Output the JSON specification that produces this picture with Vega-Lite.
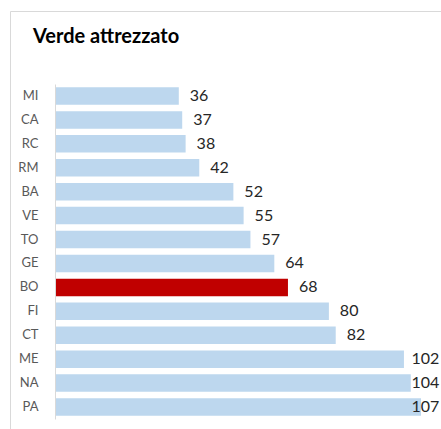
{
  "$schema": "https://vega.github.io/schema/vega-lite/v6.json",
  "autosize": "none",
  "padding": {"left": 10, "top": 11, "right": 0, "bottom": 0},
  "width": 440,
  "height": 430,
  "background": "white",
  "title": {
    "text": "Verde attrezzato",
    "anchor": "start",
    "frame": "group",
    "offset": 0,
    "baseline": "alphabetic",
    "dx": 23,
    "dy": 52,
    "font": "Lato",
    "fontSize": 20,
    "fontWeight": "bold",
    "color": "#000000"
  },
  "config": {
    "view": {"stroke": "#D9D9D9", "strokeWidth": 1}
  },
  "data": {
    "values": [
      {"city": "MI", "value": 36},
      {"city": "CA", "value": 37},
      {"city": "RC", "value": 38},
      {"city": "RM", "value": 42},
      {"city": "BA", "value": 52},
      {"city": "VE", "value": 55},
      {"city": "TO", "value": 57},
      {"city": "GE", "value": 64},
      {"city": "BO", "value": 68},
      {"city": "FI", "value": 80},
      {"city": "CT", "value": 82},
      {"city": "ME", "value": 102},
      {"city": "NA", "value": 104},
      {"city": "PA", "value": 107}
    ]
  },
  "encoding": {
    "y": {
      "field": "city",
      "type": "nominal",
      "sort": null,
      "scale": {"range": [73, 408], "paddingInner": 0.27, "paddingOuter": 0.135},
      "axis": {
        "title": null,
        "offset": -45,
        "ticks": false,
        "domainColor": "#D9D9D9",
        "labelPadding": 17,
        "labelFont": "Lato",
        "labelFontSize": 13,
        "labelColor": "#595959"
      }
    }
  },
  "layer": [
    {
      "mark": {"type": "bar"},
      "encoding": {
        "x": {
          "field": "value",
          "type": "quantitative",
          "scale": {"domain": [0, 107], "range": [46, 411], "nice": false, "zero": true},
          "axis": null
        },
        "color": {
          "condition": {"test": "datum.city === 'BO'", "value": "#C00000"},
          "value": "#BDD7EE"
        }
      }
    },
    {
      "mark": {"type": "text", "align": "left", "baseline": "middle", "dx": 11, "font": "Lato", "fontSize": 16, "color": "#262626"},
      "encoding": {
        "x": {
          "field": "value",
          "type": "quantitative",
          "scale": {"domain": [0, 101], "range": [46, 390.5], "nice": false, "zero": true, "clamp": true},
          "axis": null
        },
        "text": {"field": "value", "type": "quantitative"}
      }
    }
  ],
  "resolve": {"scale": {"x": "independent"}}
}
